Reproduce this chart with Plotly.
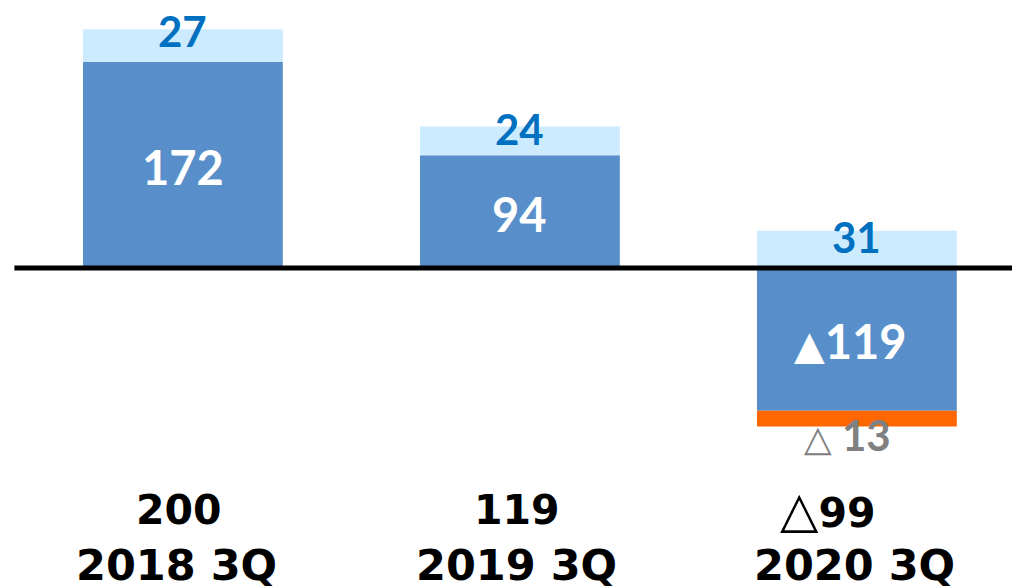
import plotly.graph_objects as go

categories = ["2018 3Q", "2019 3Q", "2020 3Q"]
main_values = [172, 94, -119]
extra_values = [27, 24, 31]
loss_values = [0, 0, -13]
totals = ["200", "119", "△99"]
main_labels = ["172", "94", "▲119"]
extra_labels = ["27", "24", "31"]
loss_labels = ["", "", "△ 13"]

FONT = "Lato"
FONT2 = "DejaVu Sans"
DARK = "#588FCA"
LIGHT = "#CCEBFF"
ORANGE = "#FF6600"
LBLUE = "#0070C0"

xs = list(range(len(categories)))
extra_shift = [-2, -3, -6]
total_xshift = [-4, -3, -29]
cat_xshift = [-6, -3, -2]


def fmt_tri(label, tri_size, gap=""):
    # enlarge triangle glyphs
    out = ""
    for ch in label:
        if ch in "▲△":
            out += f"<span style='font-size:{tri_size}px;font-family:DejaVu Sans'>{ch}</span>"
        elif ch == " ":
            out += gap
        else:
            out += ch
    return out


fig = go.Figure()
fig.add_trace(go.Bar(x=xs, y=main_values, marker=dict(color=DARK, line=dict(width=0)), width=0.593, hoverinfo="skip"))
fig.add_trace(go.Bar(x=xs, y=extra_values, marker=dict(color=LIGHT, line=dict(width=0)), width=0.593, hoverinfo="skip"))
fig.add_trace(go.Bar(x=xs, y=loss_values, marker=dict(color=ORANGE, line=dict(width=0)), width=0.593, hoverinfo="skip"))

ann = []
for i in xs:
    m = main_values[i]
    e = extra_values[i]
    pos_base = max(m, 0)
    ann.append(dict(x=i, y=pos_base + e, yref="y", xref="x", text=f"<b>{extra_labels[i]}</b>",
                    showarrow=False, yanchor="middle", yshift=extra_shift[i],
                    font=dict(family=FONT, size=42, color=LBLUE)))
    ann.append(dict(x=i, y=m / 2, yref="y", xref="x", text="<b>" + fmt_tri(main_labels[i], 40) + "</b>",
                    showarrow=False, yanchor="middle", xshift=(-6 if m < 0 else 0), yshift=-2,
                    font=dict(family=FONT, size=47, color="white")))
    if loss_labels[i]:
        bottom = min(m, 0) + loss_values[i]
        ann.append(dict(x=i, y=bottom, yref="y", xref="x", text="<b>" + fmt_tri(loss_labels[i], 36, " ") + "</b>",
                        showarrow=False, yanchor="middle", yshift=-9, xshift=-9,
                        font=dict(family=FONT, size=42, color="#808080")))
    ann.append(dict(x=i, y=-201.7, yref="y", xref="x", text="<b>" + fmt_tri(totals[i], 50) + "</b>",
                    showarrow=False, yanchor="middle", xshift=total_xshift[i],
                    font=dict(family=FONT2, size=41, color="black")))
    ann.append(dict(x=i, y=-247.5, yref="y", xref="x", text=f"<b>{categories[i]}</b>",
                    showarrow=False, yanchor="middle", xshift=cat_xshift[i],
                    font=dict(family=FONT2, size=43, color="black")))

fig.update_layout(
    barmode="relative",
    width=1012, height=578,
    margin=dict(l=0, r=0, t=0, b=0),
    paper_bgcolor="white", plot_bgcolor="white",
    showlegend=False,
    xaxis=dict(range=[-0.519, 2.484], visible=False, fixedrange=True),
    yaxis=dict(range=[-265, 216.7], visible=False, fixedrange=True),
    annotations=ann,
    shapes=[dict(type="line", xref="x", yref="y", x0=-0.5, x1=3, y0=0, y1=0,
                 line=dict(color="black", width=5), layer="above")],
)

fig.write_html("out.html", config={"displayModeBar": False})
